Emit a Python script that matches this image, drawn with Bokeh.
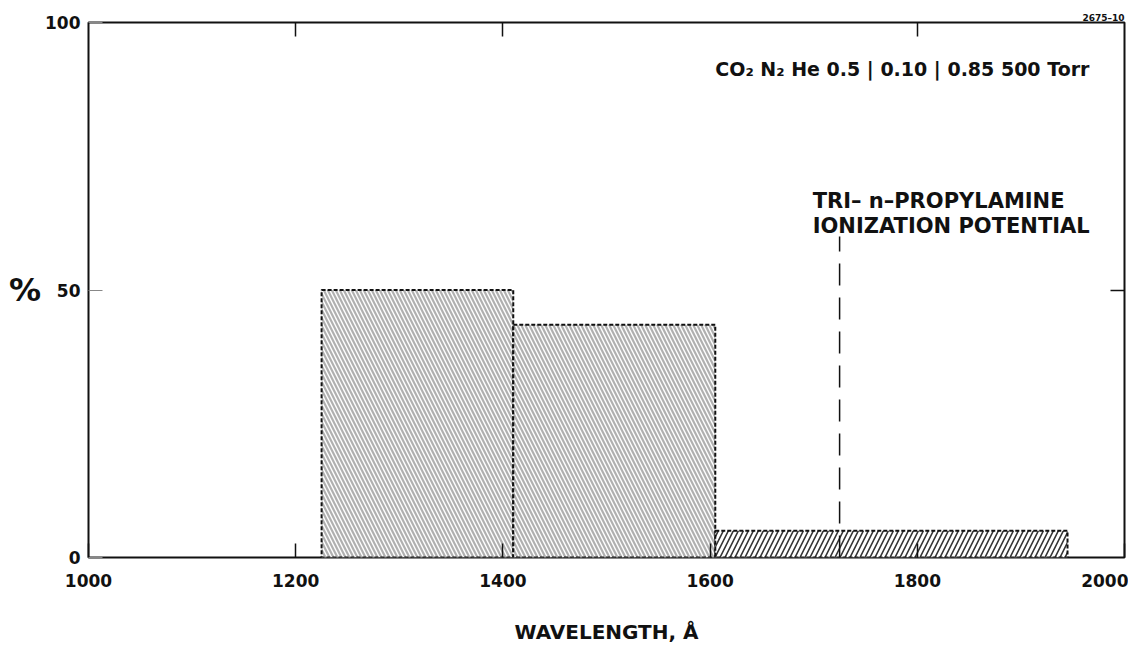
from bokeh.plotting import figure
from bokeh.models import LinearAxis, FixedTicker, Range1d, Label, Title
from bokeh.embed import file_html
from bokeh.resources import INLINE

# ---- data ----
bin_left = [1225, 1410, 1605]          # wavelength band start (Å)
bin_right = [1410, 1605, 1945]         # wavelength band end (Å)
percent = [50, 43.5, 5]                # % in each band
x_ticks = [1000, 1200, 1400, 1600, 1800, 2000]
y_ticks = [0, 50, 100]
top_ticks = [1200, 1400, 1800]
right_ticks = [50]
ionization_wavelength = 1725           # Å, tri-n-propylamine ionization potential
ionization_marker_top = 60             # %

FONT = "DejaVu Sans"
INK = "#111111"

p = figure(width=1128, height=646, output_backend="svg", toolbar_location=None,
           x_range=Range1d(1000, 2000), y_range=Range1d(0, 100),
           min_border_left=88, min_border_top=22, min_border_right=4,
           min_border_bottom=86)
p.grid.visible = False
p.outline_line_color = INK
p.outline_line_width = 2
p.background_fill_color = "white"
p.border_fill_color = "white"

# figure number, top right
p.title = Title(text="2675–10", align="right", text_font=FONT, text_color=INK,
                text_font_style="bold", text_font_size="9px", standoff=0)

# bottom axis
xa = p.xaxis[0]
xa.ticker = FixedTicker(ticks=x_ticks)
xa.axis_line_color = None
xa.major_tick_in = 14
xa.major_tick_out = 0
xa.major_tick_line_width = 1.5
xa.major_tick_line_color = INK
xa.minor_tick_line_color = None
xa.major_label_text_font = FONT
xa.major_label_text_font_style = "bold"
xa.major_label_text_font_size = "17px"
xa.major_label_text_color = INK
xa.major_label_standoff = 16
xa.axis_label = "WAVELENGTH, Å"
xa.axis_label_text_font = FONT
xa.axis_label_text_font_style = "bold"
xa.axis_label_text_font_size = "20px"
xa.axis_label_text_color = INK
xa.axis_label_standoff = 30

# left axis
ya = p.yaxis[0]
ya.ticker = FixedTicker(ticks=y_ticks)
ya.axis_line_color = None
ya.major_tick_in = 14
ya.major_tick_out = 0
ya.major_tick_line_color = "#888888"
ya.minor_tick_line_color = None
ya.major_label_text_font = FONT
ya.major_label_text_font_style = "bold"
ya.major_label_text_font_size = "17px"
ya.major_label_text_color = INK
ya.major_label_standoff = 8
if "axis_label_orientation" in LinearAxis.properties():
    ya.axis_label = "%"
    ya.axis_label_orientation = "horizontal"
    ya.axis_label_text_font = FONT
    ya.axis_label_text_font_style = "bold"
    ya.axis_label_text_font_size = "32px"
    ya.axis_label_text_color = INK
    ya.axis_label_standoff = 1
else:
    ya.major_label_overrides = {50: "%   50"}

# top & right axes: inward ticks only (labels not painted)
for loc, ticks in (("above", top_ticks), ("right", right_ticks)):
    ax = LinearAxis(ticker=FixedTicker(ticks=ticks), axis_line_color=None,
                    major_tick_in=14, major_tick_out=0, major_tick_line_width=1.5,
                    major_tick_line_color=INK,
                    minor_tick_line_color=None, major_label_text_font_size="1px",
                    major_label_text_color=None, major_label_standoff=0)
    p.add_layout(ax, loc)

# bars
p.quad(left=bin_left[:2], right=bin_right[:2], bottom=0, top=percent[:2],
       fill_color="white", hatch_pattern="left_diagonal_line", hatch_color="#b0b0b0",
       hatch_scale=8, hatch_weight=2.2,
       line_color=INK, line_width=2, line_dash="4 2")
p.quad(left=bin_left[2:], right=bin_right[2:], bottom=0, top=percent[2:],
       fill_color="white", hatch_pattern="right_diagonal_line", hatch_color="#333333",
       hatch_scale=10, hatch_weight=1.6,
       line_color=INK, line_width=2, line_dash="4 2")

# ionization potential marker
p.segment(x0=[ionization_wavelength], y0=[0], x1=[ionization_wavelength],
          y1=[ionization_marker_top], line_color=INK, line_width=1.5,
          line_dash="22 12")

# annotations
p.add_layout(Label(x=1605, y=91.4, text="CO₂ N₂ He  0.5 | 0.10 | 0.85  500 Torr",
                   text_font=FONT, text_font_style="bold", text_font_size="19px",
                   text_color=INK, text_baseline="middle", text_align="left"))
p.add_layout(Label(x=1699, y=66.6, text="TRI– n–PROPYLAMINE",
                   text_font=FONT, text_font_style="bold", text_font_size="21px",
                   text_color=INK, text_baseline="middle", text_align="left"))
p.add_layout(Label(x=1699, y=62.0, text="IONIZATION POTENTIAL",
                   text_font=FONT, text_font_style="bold", text_font_size="21px",
                   text_color=INK, text_baseline="middle", text_align="left"))

open("out.html", "w").write(file_html(p, INLINE))
